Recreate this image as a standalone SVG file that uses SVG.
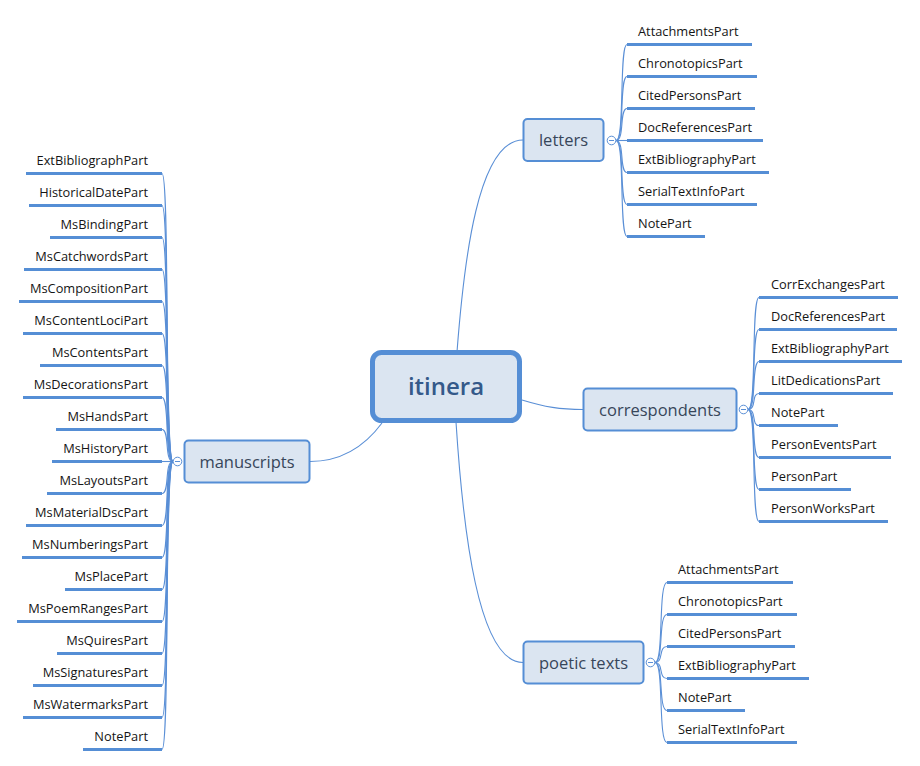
<svg xmlns="http://www.w3.org/2000/svg" width="920" height="766" viewBox="0 0 920 766">
<style>
  .bg { fill: #ffffff; }
  .conn { fill: none; stroke: #5a8fd6; stroke-width: 1.1; }
  .ul { stroke: #558ed5; stroke-width: 3; fill: none; }
  .lbl { font-family: "Open Sans", "Noto Sans", "DejaVu Sans", sans-serif; font-size: 12.8px; fill: #151515; }
  .lbl-l { text-anchor: end; }
  .node { fill: #dbe5f1; stroke: #558ed5; stroke-width: 2; }
  .root { fill: #dbe5f1; stroke: #558ed5; stroke-width: 5; }
  .ntext { font-family: "Open Sans", "Noto Sans", "DejaVu Sans", sans-serif; font-size: 16.5px; fill: #37465a; text-anchor: middle; }
  .rtext { font-family: "Open Sans", "Noto Sans", "DejaVu Sans", sans-serif; font-size: 24px; font-weight: 600; fill: #34598a; text-anchor: middle; }
  .knob { fill: #ffffff; stroke: #5a8fd6; stroke-width: 1; }
  .minus { stroke: #5a8fd6; stroke-width: 1; }
</style>
<rect class="bg" x="0" y="0" width="920" height="766"/>

<g id="connectors">
  <!-- main branches -->
  <path class="conn" d="M457,352 C464,260 478,140 523,140"/>
  <path class="conn" d="M522,400 C545,407 560,409.5 583,409.5"/>
  <path class="conn" d="M456,422 C463,530 478,662.5 523,662.5"/>
  <path class="conn" d="M382,423 C362,450 338,461.5 310,461.5"/>
  <!-- letters children -->
  <path class="conn" d="M616,140.5 C625,140.5 619,44.5 627,44.5"/>
  <path class="conn" d="M616,140.5 C625,140.5 619,76.5 627,76.5"/>
  <path class="conn" d="M616,140.5 C625,140.5 619,108.5 627,108.5"/>
  <path class="conn" d="M616,140.5 L627,140.5"/>
  <path class="conn" d="M616,140.5 C625,140.5 619,172.5 627,172.5"/>
  <path class="conn" d="M616,140.5 C625,140.5 619,204.5 627,204.5"/>
  <path class="conn" d="M616,140.5 C625,140.5 619,236.5 627,236.5"/>
  <!-- correspondents children -->
  <path class="conn" d="M748,409.5 C757,409.5 751,297.5 759,297.5"/>
  <path class="conn" d="M748,409.5 C757,409.5 751,329.5 759,329.5"/>
  <path class="conn" d="M748,409.5 C757,409.5 751,361.5 759,361.5"/>
  <path class="conn" d="M748,409.5 C757,409.5 751,393.5 759,393.5"/>
  <path class="conn" d="M748,409.5 C757,409.5 751,425.5 759,425.5"/>
  <path class="conn" d="M748,409.5 C757,409.5 751,457.5 759,457.5"/>
  <path class="conn" d="M748,409.5 C757,409.5 751,489.5 759,489.5"/>
  <path class="conn" d="M748,409.5 C757,409.5 751,521.5 759,521.5"/>
  <!-- poetic texts children -->
  <path class="conn" d="M655,662.5 C664,662.5 658,582.5 667,582.5"/>
  <path class="conn" d="M655,662.5 C664,662.5 658,614.5 667,614.5"/>
  <path class="conn" d="M655,662.5 C664,662.5 658,646.5 667,646.5"/>
  <path class="conn" d="M655,662.5 C664,662.5 658,678.5 667,678.5"/>
  <path class="conn" d="M655,662.5 C664,662.5 658,710.5 667,710.5"/>
  <path class="conn" d="M655,662.5 C664,662.5 658,742.5 667,742.5"/>
  <!-- manuscripts children -->
  <path class="conn" d="M173,461.5 C164,461.5 170,173.5 162,173.5"/>
  <path class="conn" d="M173,461.5 C164,461.5 170,205.5 162,205.5"/>
  <path class="conn" d="M173,461.5 C164,461.5 170,237.5 162,237.5"/>
  <path class="conn" d="M173,461.5 C164,461.5 170,269.5 162,269.5"/>
  <path class="conn" d="M173,461.5 C164,461.5 170,301.5 162,301.5"/>
  <path class="conn" d="M173,461.5 C164,461.5 170,333.5 162,333.5"/>
  <path class="conn" d="M173,461.5 C164,461.5 170,365.5 162,365.5"/>
  <path class="conn" d="M173,461.5 C164,461.5 170,397.5 162,397.5"/>
  <path class="conn" d="M173,461.5 C164,461.5 170,429.5 162,429.5"/>
  <path class="conn" d="M173,461.5 L162,461.5"/>
  <path class="conn" d="M173,461.5 C164,461.5 170,493.5 162,493.5"/>
  <path class="conn" d="M173,461.5 C164,461.5 170,525.5 162,525.5"/>
  <path class="conn" d="M173,461.5 C164,461.5 170,557.5 162,557.5"/>
  <path class="conn" d="M173,461.5 C164,461.5 170,589.5 162,589.5"/>
  <path class="conn" d="M173,461.5 C164,461.5 170,621.5 162,621.5"/>
  <path class="conn" d="M173,461.5 C164,461.5 170,653.5 162,653.5"/>
  <path class="conn" d="M173,461.5 C164,461.5 170,685.5 162,685.5"/>
  <path class="conn" d="M173,461.5 C164,461.5 170,717.5 162,717.5"/>
  <path class="conn" d="M173,461.5 C164,461.5 170,749.5 162,749.5"/>
</g>

<g id="root-itinera">
  <rect class="root" x="372.5" y="352.5" width="147" height="68" rx="9"/>
  <text class="rtext" x="446" y="395">itinera</text>
</g>

<g id="node-letters">
  <rect class="node" x="523.5" y="119" width="80" height="42" rx="4"/>
  <text class="ntext" x="563.5" y="146">letters</text>
  <circle class="knob" cx="611.5" cy="140.5" r="4.3"/>
  <line class="minus" x1="609" y1="140.5" x2="614" y2="140.5"/>
</g>

<g id="node-correspondents">
  <rect class="node" x="583.5" y="388.5" width="153" height="42" rx="4"/>
  <text class="ntext" x="660" y="415.5">correspondents</text>
  <circle class="knob" cx="743.5" cy="409.5" r="4.3"/>
  <line class="minus" x1="741" y1="409.5" x2="746" y2="409.5"/>
</g>

<g id="node-poetic-texts">
  <rect class="node" x="523.5" y="641.5" width="120" height="42" rx="4"/>
  <text class="ntext" x="583.5" y="668.5">poetic texts</text>
  <circle class="knob" cx="650.5" cy="662.5" r="4.3"/>
  <line class="minus" x1="648" y1="662.5" x2="653" y2="662.5"/>
</g>

<g id="node-manuscripts">
  <rect class="node" x="184.5" y="440.5" width="125" height="42" rx="4"/>
  <text class="ntext" x="247" y="467.5">manuscripts</text>
  <circle class="knob" cx="177.5" cy="461.5" r="4.3"/>
  <line class="minus" x1="175" y1="461.5" x2="180" y2="461.5"/>
</g>

<!-- letters children -->
<g id="letters-AttachmentsPart"><line class="ul" x1="627" y1="44.5" x2="752" y2="44.5"/><text class="lbl" x="638" y="35.5">AttachmentsPart</text></g>
<g id="letters-ChronotopicsPart"><line class="ul" x1="627" y1="76.5" x2="757" y2="76.5"/><text class="lbl" x="638" y="67.5">ChronotopicsPart</text></g>
<g id="letters-CitedPersonsPart"><line class="ul" x1="627" y1="108.5" x2="755" y2="108.5"/><text class="lbl" x="638" y="99.5">CitedPersonsPart</text></g>
<g id="letters-DocReferencesPart"><line class="ul" x1="627" y1="140.5" x2="763" y2="140.5"/><text class="lbl" x="638" y="131.5">DocReferencesPart</text></g>
<g id="letters-ExtBibliographyPart"><line class="ul" x1="627" y1="172.5" x2="769" y2="172.5"/><text class="lbl" x="638" y="163.5">ExtBibliographyPart</text></g>
<g id="letters-SerialTextInfoPart"><line class="ul" x1="627" y1="204.5" x2="757" y2="204.5"/><text class="lbl" x="638" y="195.5">SerialTextInfoPart</text></g>
<g id="letters-NotePart"><line class="ul" x1="627" y1="236.5" x2="705" y2="236.5"/><text class="lbl" x="638" y="227.5">NotePart</text></g>

<!-- correspondents children -->
<g id="corr-CorrExchangesPart"><line class="ul" x1="759" y1="297.5" x2="898" y2="297.5"/><text class="lbl" x="771" y="288.5">CorrExchangesPart</text></g>
<g id="corr-DocReferencesPart"><line class="ul" x1="759" y1="329.5" x2="897" y2="329.5"/><text class="lbl" x="771" y="320.5">DocReferencesPart</text></g>
<g id="corr-ExtBibliographyPart"><line class="ul" x1="759" y1="361.5" x2="902" y2="361.5"/><text class="lbl" x="771" y="352.5">ExtBibliographyPart</text></g>
<g id="corr-LitDedicationsPart"><line class="ul" x1="759" y1="393.5" x2="893" y2="393.5"/><text class="lbl" x="771" y="384.5">LitDedicationsPart</text></g>
<g id="corr-NotePart"><line class="ul" x1="759" y1="425.5" x2="838" y2="425.5"/><text class="lbl" x="771" y="416.5">NotePart</text></g>
<g id="corr-PersonEventsPart"><line class="ul" x1="759" y1="457.5" x2="891" y2="457.5"/><text class="lbl" x="771" y="448.5">PersonEventsPart</text></g>
<g id="corr-PersonPart"><line class="ul" x1="759" y1="489.5" x2="851" y2="489.5"/><text class="lbl" x="771" y="480.5">PersonPart</text></g>
<g id="corr-PersonWorksPart"><line class="ul" x1="759" y1="521.5" x2="888" y2="521.5"/><text class="lbl" x="771" y="512.5">PersonWorksPart</text></g>

<!-- poetic texts children -->
<g id="poetic-AttachmentsPart"><line class="ul" x1="667" y1="582.5" x2="793" y2="582.5"/><text class="lbl" x="678" y="573.5">AttachmentsPart</text></g>
<g id="poetic-ChronotopicsPart"><line class="ul" x1="667" y1="614.5" x2="797" y2="614.5"/><text class="lbl" x="678" y="605.5">ChronotopicsPart</text></g>
<g id="poetic-CitedPersonsPart"><line class="ul" x1="667" y1="646.5" x2="795" y2="646.5"/><text class="lbl" x="678" y="637.5">CitedPersonsPart</text></g>
<g id="poetic-ExtBibliographyPart"><line class="ul" x1="667" y1="678.5" x2="809" y2="678.5"/><text class="lbl" x="678" y="669.5">ExtBibliographyPart</text></g>
<g id="poetic-NotePart"><line class="ul" x1="667" y1="710.5" x2="745" y2="710.5"/><text class="lbl" x="678" y="701.5">NotePart</text></g>
<g id="poetic-SerialTextInfoPart"><line class="ul" x1="667" y1="742.5" x2="797" y2="742.5"/><text class="lbl" x="678" y="733.5">SerialTextInfoPart</text></g>

<!-- manuscripts children -->
<g id="ms-ExtBibliographPart"><line class="ul" x1="26" y1="173.5" x2="162" y2="173.5"/><text class="lbl lbl-l" x="148" y="164.5">ExtBibliographPart</text></g>
<g id="ms-HistoricalDatePart"><line class="ul" x1="29" y1="205.5" x2="162" y2="205.5"/><text class="lbl lbl-l" x="148" y="196.5">HistoricalDatePart</text></g>
<g id="ms-MsBindingPart"><line class="ul" x1="50" y1="237.5" x2="162" y2="237.5"/><text class="lbl lbl-l" x="148" y="228.5">MsBindingPart</text></g>
<g id="ms-MsCatchwordsPart"><line class="ul" x1="24" y1="269.5" x2="162" y2="269.5"/><text class="lbl lbl-l" x="148" y="260.5">MsCatchwordsPart</text></g>
<g id="ms-MsCompositionPart"><line class="ul" x1="19" y1="301.5" x2="162" y2="301.5"/><text class="lbl lbl-l" x="148" y="292.5">MsCompositionPart</text></g>
<g id="ms-MsContentLociPart"><line class="ul" x1="23" y1="333.5" x2="162" y2="333.5"/><text class="lbl lbl-l" x="148" y="324.5">MsContentLociPart</text></g>
<g id="ms-MsContentsPart"><line class="ul" x1="40" y1="365.5" x2="162" y2="365.5"/><text class="lbl lbl-l" x="148" y="356.5">MsContentsPart</text></g>
<g id="ms-MsDecorationsPart"><line class="ul" x1="23" y1="397.5" x2="162" y2="397.5"/><text class="lbl lbl-l" x="148" y="388.5">MsDecorationsPart</text></g>
<g id="ms-MsHandsPart"><line class="ul" x1="56" y1="429.5" x2="162" y2="429.5"/><text class="lbl lbl-l" x="148" y="420.5">MsHandsPart</text></g>
<g id="ms-MsHistoryPart"><line class="ul" x1="52" y1="461.5" x2="162" y2="461.5"/><text class="lbl lbl-l" x="148" y="452.5">MsHistoryPart</text></g>
<g id="ms-MsLayoutsPart"><line class="ul" x1="47" y1="493.5" x2="162" y2="493.5"/><text class="lbl lbl-l" x="148" y="484.5">MsLayoutsPart</text></g>
<g id="ms-MsMaterialDscPart"><line class="ul" x1="26" y1="525.5" x2="162" y2="525.5"/><text class="lbl lbl-l" x="148" y="516.5">MsMaterialDscPart</text></g>
<g id="ms-MsNumberingsPart"><line class="ul" x1="22" y1="557.5" x2="162" y2="557.5"/><text class="lbl lbl-l" x="148" y="548.5">MsNumberingsPart</text></g>
<g id="ms-MsPlacePart"><line class="ul" x1="65" y1="589.5" x2="162" y2="589.5"/><text class="lbl lbl-l" x="148" y="580.5">MsPlacePart</text></g>
<g id="ms-MsPoemRangesPart"><line class="ul" x1="17" y1="621.5" x2="162" y2="621.5"/><text class="lbl lbl-l" x="148" y="612.5">MsPoemRangesPart</text></g>
<g id="ms-MsQuiresPart"><line class="ul" x1="57" y1="653.5" x2="162" y2="653.5"/><text class="lbl lbl-l" x="148" y="644.5">MsQuiresPart</text></g>
<g id="ms-MsSignaturesPart"><line class="ul" x1="33" y1="685.5" x2="162" y2="685.5"/><text class="lbl lbl-l" x="148" y="676.5">MsSignaturesPart</text></g>
<g id="ms-MsWatermarksPart"><line class="ul" x1="23" y1="717.5" x2="162" y2="717.5"/><text class="lbl lbl-l" x="148" y="708.5">MsWatermarksPart</text></g>
<g id="ms-NotePart"><line class="ul" x1="83" y1="749.5" x2="162" y2="749.5"/><text class="lbl lbl-l" x="148" y="740.5">NotePart</text></g>
</svg>
